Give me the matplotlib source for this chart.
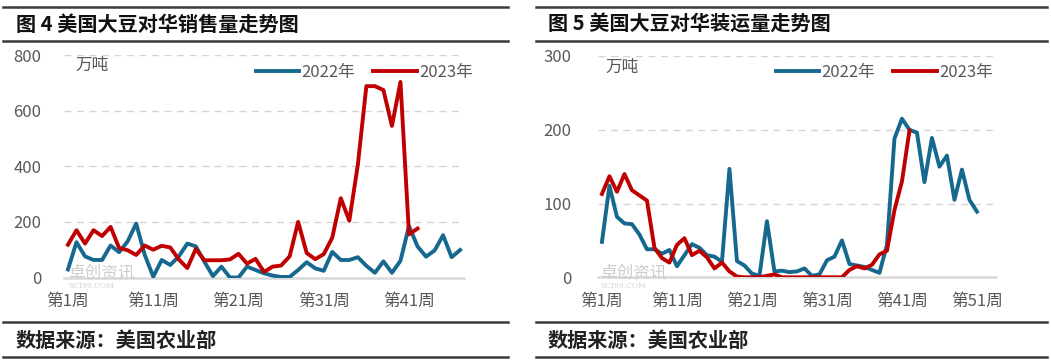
import numpy as np
import matplotlib.pyplot as plt
from matplotlib.lines import Line2D

plt.rcParams['font.family'] = ['Noto Sans CJK SC', 'DejaVu Sans']

# 图4 美国大豆对华销售量（万吨），第1周起
ventas_2022 = [29, 127, 76, 63, 63, 115, 91, 130, 194, 82,
               3, 63, 45, 76, 122, 112, 57, 5, 39, 0,
               0, 39, 27, 15, 7, 2, 2, 27, 55, 33,
               24, 92, 63, 63, 73, 42, 17, 58, 17, 60,
               185, 112, 75, 97, 152, 73, 99]
ventas_2023 = [118, 170, 122, 170, 149, 182, 106, 98, 81, 115,
               100, 114, 108, 65, 34, 103, 62, 62, 62, 65,
               85, 50, 67, 20, 39, 43, 76, 200, 88, 66,
               84, 143, 285, 204, 405, 688, 688, 674, 545, 703,
               155, 176]
n_semanas_izq = 47

# 图5 美国大豆对华装运量（万吨）
envios_2022 = [48, 124, 82, 73, 72, 58, 38, 38, 32, 37,
               15, 30, 45, 40, 30, 28, 21, 147, 22, 16,
               5, 2, 76, 8, 9, 7, 8, 12, 2, 4,
               23, 28, 50, 18, 16, 14, 10, 6, 44, 188,
               215, 200, 196, 129, 189, 150, 165, 105, 146, 105,
               89]
envios_2023 = [113, 137, 116, 140, 118, 111, 104, 40, 26, 20,
               44, 53, 30, 36, 27, 12, 20, 8, 1, 0,
               0, 0, 2, 4, 0, 0, 0, 0, 0, 0,
               0, 0, 0, 10, 15, 12, 17, 31, 36, 91,
               130, 199]
n_semanas_der = 53

semanas_izq = [f'第{i}周' for i in range(1, 42, 10)]
semanas_der = [f'第{i}周' for i in range(1, 52, 10)]
titulos = ['图 4 美国大豆对华销售量走势图', '图 5 美国大豆对华装运量走势图']
fuente = '数据来源：美国农业部'
unidad = '万吨'
anios = ['2022年', '2023年']

AZUL = '#17688f'
ROJO = '#c00000'
GRIS = '#595959'

W, H = 1051, 360
fig = plt.figure(figsize=(W / 100, H / 100), dpi=100)


def px(x0, y0, x1, y1):
    # caja en pixeles (arriba-izquierda) -> coordenadas de figura
    return [x0 / W, 1 - y1 / H, (x1 - x0) / W, (y1 - y0) / H]


def regla(x0, x1, y, lw=1.8):
    fig.add_artist(Line2D([x0 / W, x1 / W], [1 - y / H, 1 - y / H],
                          color='#3a3a3a', lw=lw))


def panel(caja, serie22, serie23, n, ymax, paso, etiquetas, pad_y):
    ax = fig.add_axes(px(*caja))
    x22 = np.arange(len(serie22))
    x23 = np.arange(len(serie23))
    ax.plot(x22, serie22, color=AZUL, lw=2.8, solid_joinstyle='round', zorder=3)
    ax.plot(x23, serie23, color=ROJO, lw=2.8, solid_joinstyle='round', zorder=4)
    ax.set_xlim(-0.5, n - 0.5)
    ax.set_ylim(0, ymax)
    ax.set_yticks(np.arange(0, ymax + 1, paso))
    ax.set_xticks(np.arange(0, 10 * len(etiquetas), 10))
    ax.set_xticklabels(etiquetas)
    ax.grid(axis='y', color='#d4d4d4', lw=1, linestyle=(0, (5, 4)))
    ax.set_axisbelow(True)
    for s in ['top', 'right', 'left']:
        ax.spines[s].set_visible(False)
    ax.spines['bottom'].set_color('#d9d9d9')
    ax.spines['bottom'].set_linewidth(1.8)
    ax.spines['bottom'].set_zorder(1)
    ax.tick_params(axis='both', length=0, colors=GRIS, labelsize=12)
    ax.tick_params(axis='y', pad=pad_y)
    ax.tick_params(axis='x', pad=11)
    return ax


# panel izquierdo
ax1 = panel((63.7, 55, 464.4, 277.5), ventas_2022, ventas_2023,
            n_semanas_izq, 800, 200, semanas_izq, 16)
# panel derecho
ax2 = panel((598.2, 56, 995.7, 277.3), envios_2022, envios_2023,
            n_semanas_der, 300, 100, semanas_der, 19)

for ax, (ux, uy), (lx, ly) in [(ax1, (75, 65), (473, 72)),
                               (ax2, (605, 67), (993, 72))]:
    fig.text(ux / W, 1 - uy / H, unidad, fontsize=12, color=GRIS,
             ha='left', va='center')
    ax.legend(ax.get_lines(), anios, loc='center right',
              bbox_to_anchor=(lx / W, 1 - ly / H), bbox_transform=fig.transFigure,
              ncol=2, frameon=False, fontsize=12, labelcolor=GRIS,
              handlelength=2.6, handletextpad=0.15, columnspacing=1.1,
              borderpad=0, borderaxespad=0)

# marca de agua
for x0, y0 in [(68, 273), (600, 273)]:
    fig.text(x0 / W, 1 - y0 / H, '卓创资讯', fontsize=12, color='#cdcdcd',
             ha='left', va='center', zorder=0)
    fig.text(x0 / W, 1 - (y0 + 13) / H, 'SCI99.COM', fontsize=5.5, color='#d2d2d2',
             family='DejaVu Serif', ha='left', va='center', zorder=0)

# titulos, reglas y fuente
for (x0, x1, tx), titulo in zip([(3, 508, 16), (536, 1047, 548)], titulos):
    regla(x0, x1, 7)
    regla(x0, x1, 41)
    regla(x0, x1, 322)
    regla(x0, x1, 357)
    fig.text(tx / W, 1 - 24 / H, titulo, fontsize=14.5, fontweight='bold',
             ha='left', va='center', color='#111111')
    fig.text(tx / W, 1 - 340 / H, fuente, fontsize=14.5, fontweight='bold',
             ha='left', va='center', color='#222222')

fig.savefig('out.png', dpi=100)
